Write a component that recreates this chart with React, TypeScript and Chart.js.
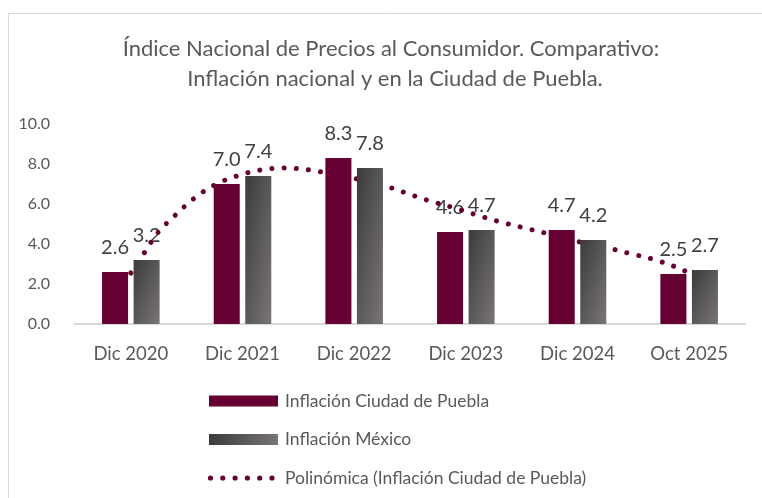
import React, { useEffect, useRef } from 'react';
import { Chart, registerables } from 'chart.js';

Chart.register(...registerables);

const categories = ['Dic 2020', 'Dic 2021', 'Dic 2022', 'Dic 2023', 'Dic 2024', 'Oct 2025'];
const pueblaValues = [2.6, 7.0, 8.3, 4.6, 4.7, 2.5];
const mexicoValues = [3.2, 7.4, 7.8, 4.7, 4.2, 2.7];
// Polynomial trendline (x in category units)
const trendX = [0, 0.12, 0.24, 0.4, 0.56, 0.75, 0.95, 1.16, 1.37, 1.6, 1.8, 2.03, 2.25, 2.44, 2.65, 2.87, 3.07, 3.28, 3.49, 3.71, 4.02, 4.24, 4.45, 4.67, 4.88, 5.0];
const trendValues = [2.55, 3.55, 4.55, 5.45, 6.25, 6.95, 7.4, 7.7, 7.8, 7.7, 7.5, 7.25, 6.95, 6.6, 6.2, 5.85, 5.5, 5.15, 4.85, 4.55, 4.1, 3.85, 3.55, 3.25, 2.85, 2.55];
const yTickValues = [0, 2, 4, 6, 8, 10];
const titleLines = ['Índice Nacional de Precios al Consumidor. Comparativo:', 'Inflación nacional y en la Ciudad de Puebla.'];
const seriesNames = ['Inflación Ciudad de Puebla', 'Inflación México', 'Polinómica (Inflación Ciudad de Puebla)'];

const FONT = 'Lato, "Open Sans", sans-serif';
const MAROON = '#660033';
const CAT_PCT = 0.565;
const BAR_PCT = 0.825;

function mexicoGradient(ctx: CanvasRenderingContext2D, l: number, t: number, w: number, h: number) {
  const k = (2 * w * h) / (h * h + w * w);
  const g = ctx.createLinearGradient(l, t, l + h * k, t + w * k);
  g.addColorStop(0, '#3b3b3b');
  g.addColorStop(1, '#7a7575');
  return g;
}

const decorPlugin = {
  id: 'decor',
  beforeDraw(chart: any) {
    const c = chart.ctx as CanvasRenderingContext2D;
    c.save();
    c.fillStyle = '#ffffff';
    c.fillRect(0, 0, chart.width, chart.height);
    // frame
    c.strokeStyle = '#d9d9d9';
    c.lineWidth = 1;
    c.beginPath();
    c.moveTo(8.5, chart.height + 2);
    c.lineTo(8.5, 13.5);
    c.lineTo(chart.width + 2, 13.5);
    c.stroke();
    // title
    c.fillStyle = '#595959';
    c.font = `22px ${FONT}`;
    c.textAlign = 'center';
    c.textBaseline = 'middle';
    c.fillText(titleLines[0], 391, 49);
    c.fillText(titleLines[1], 395, 79);
    // legend
    const lx = 209;
    const rows = [401, 439.5, 478];
    c.fillStyle = MAROON;
    c.fillRect(lx, rows[0] - 5.5, 69, 11);
    const g = c.createLinearGradient(lx, rows[1] - 5.5, lx + 69, rows[1] + 5.5);
    g.addColorStop(0, '#3b3b3b');
    g.addColorStop(1, '#7a7575');
    c.fillStyle = g;
    c.fillRect(lx, rows[1] - 5.5, 69, 11);
    c.fillStyle = MAROON;
    for (let i = 0; i < 6; i++) {
      c.beginPath();
      c.arc(lx + 1.5 + i * 12.3, rows[2], 2.6, 0, Math.PI * 2);
      c.fill();
    }
    c.fillStyle = '#595959';
    c.font = `17.5px ${FONT}`;
    c.textAlign = 'left';
    seriesNames.forEach((n, i) => c.fillText(n, 285, rows[i]));
    c.restore();
  },
  beforeDatasetsDraw(chart: any) {
    const c = chart.ctx as CanvasRenderingContext2D;
    c.save();
    c.fillStyle = '#404040';
    c.font = `20px ${FONT}`;
    c.textAlign = 'center';
    c.textBaseline = 'middle';
    [0, 1].forEach((di) => {
      const meta = chart.getDatasetMeta(di);
      meta.data.forEach((el: any, i: number) => {
        const v = (chart.data.datasets[di].data[i] as any).y;
        c.fillText(Number(v).toFixed(1), el.x, el.y - 24.5);
      });
    });
    c.restore();
  },
};

export default function App() {
  const ref = useRef<HTMLCanvasElement>(null);
  useEffect(() => {
    if (!ref.current) return;
    const chart = new Chart(ref.current, {
      type: 'bar',
      data: {
        datasets: [
          {
            type: 'bar',
            label: seriesNames[0],
            data: pueblaValues.map((v, i) => ({ x: i, y: v })) as any,
            backgroundColor: MAROON,
            categoryPercentage: CAT_PCT,
            barPercentage: BAR_PCT,
            order: 1,
          },
          {
            type: 'bar',
            label: seriesNames[1],
            data: mexicoValues.map((v, i) => ({ x: i, y: v })) as any,
            backgroundColor: (ctx: any) => {
              const ch = ctx.chart;
              const xs = ch.scales?.x;
              const ys = ch.scales?.y;
              if (!ch.chartArea || !xs || !ys || ctx.dataIndex === undefined) return '#595959';
              const catW = xs.width / categories.length;
              const slot = (catW * CAT_PCT) / 2;
              const w = slot * BAR_PCT;
              const cx = xs.getPixelForValue(ctx.dataIndex) + slot / 2;
              const top = ys.getPixelForValue(mexicoValues[ctx.dataIndex]);
              const bottom = ys.getPixelForValue(0);
              return mexicoGradient(ch.ctx, cx - w / 2, top, w, Math.max(1, bottom - top));
            },
            categoryPercentage: CAT_PCT,
            barPercentage: BAR_PCT,
            order: 2,
          },
          {
            type: 'line',
            label: seriesNames[2],
            data: trendX.map((x, i) => ({ x, y: trendValues[i] })) as any,
            borderColor: MAROON,
            borderWidth: 5,
            borderCapStyle: 'round',
            borderDash: [0.001, 12.2],
            pointRadius: 0,
            tension: 0.4,
            fill: false,
            order: 5,
          } as any,
        ],
      },
      options: {
        animation: false,
        responsive: false,
        maintainAspectRatio: false,
        layout: { padding: { top: 124, right: 17, left: 0, bottom: 0 } },
        plugins: {
          legend: { display: false },
          title: { display: false },
          tooltip: { enabled: false },
        },
        scales: {
          x: {
            type: 'linear',
            min: -0.5,
            max: 5.5,
            offset: false,
            afterBuildTicks: (s: any) => { s.ticks = categories.map((_, i) => ({ value: i })); },
            grid: { display: true, drawOnChartArea: false, drawTicks: false, color: 'transparent', offset: false },
            border: { display: true, color: '#d9d9d9', width: 2 },
            ticks: {
              color: '#595959',
              font: { family: FONT, size: 18.5 },
              padding: 19,
              maxRotation: 0,
              autoSkip: false,
              callback: (v: any) => categories[Math.round(Number(v))] ?? '',
            },
            afterFit: (s: any) => { s.height = 498 - 324; },
          },
          y: {
            type: 'linear',
            min: 0,
            max: 10,
            afterBuildTicks: (s: any) => { s.ticks = yTickValues.map((v) => ({ value: v })); },
            grid: { display: false },
            border: { display: false },
            ticks: {
              color: '#595959',
              font: { family: FONT, size: 16 },
              padding: 17,
              callback: (v: any) => Number(v).toFixed(1),
            },
            afterFit: (s: any) => { s.width = 75; },
          },
        },
      },
      plugins: [decorPlugin],
    });
    return () => chart.destroy();
  }, []);
  return (
    <div style={{ position: 'absolute', left: 0, top: 0, width: 762, height: 498, background: '#fff' }}>
      <canvas ref={ref} width={762} height={498} style={{ display: 'block', width: 762, height: 498 }} />
    </div>
  );
}
